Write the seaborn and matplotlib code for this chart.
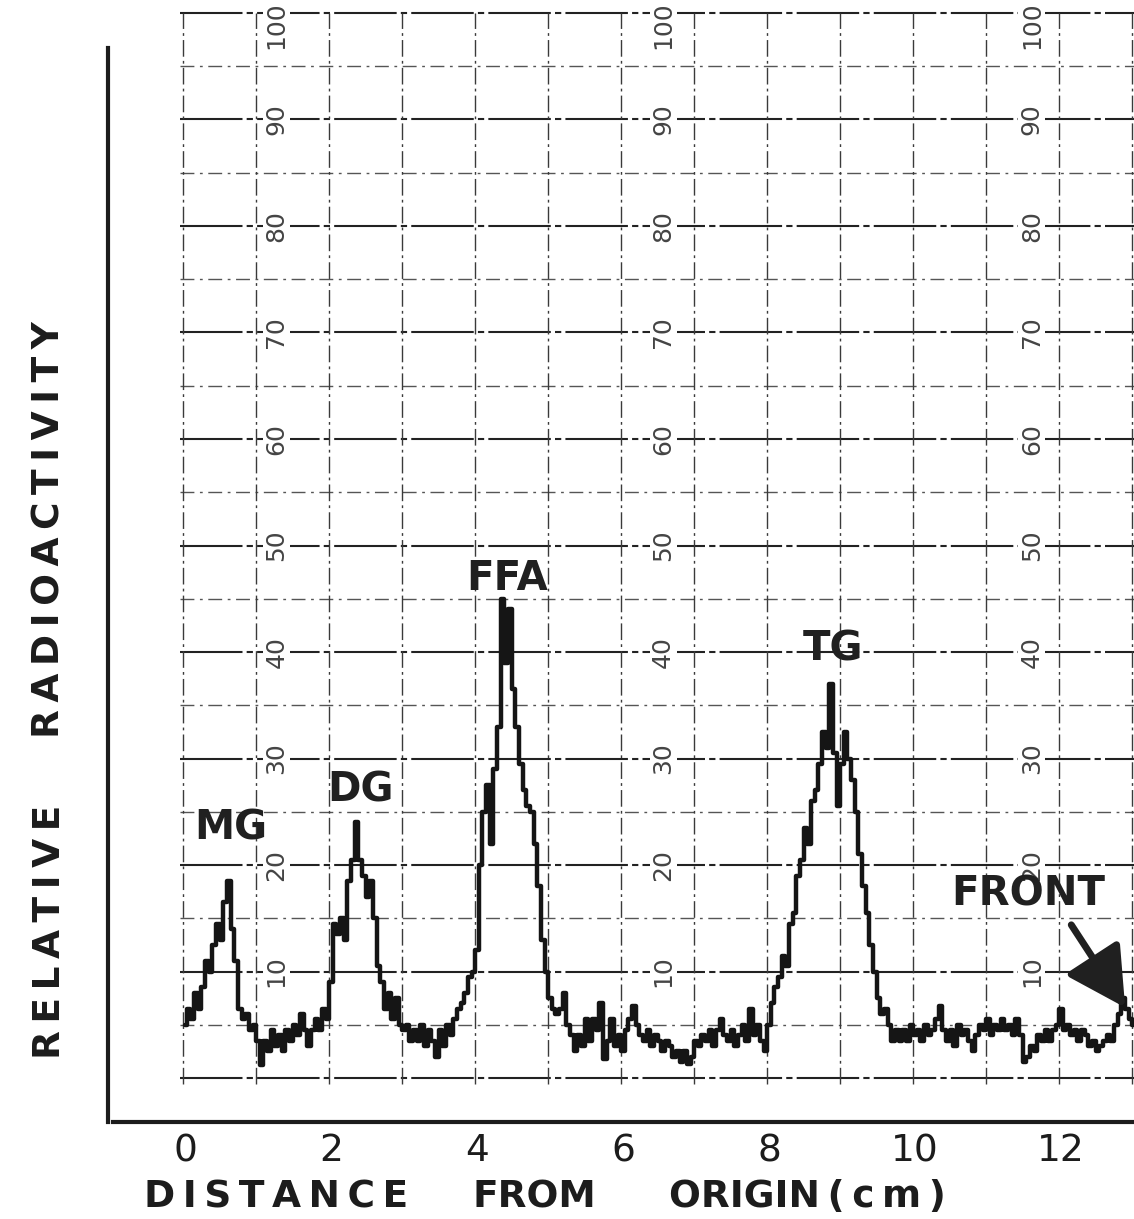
import matplotlib
matplotlib.use("Agg")
import matplotlib.pyplot as plt
import seaborn as sns
import pandas as pd

# ---------------- data ----------------
distance_cm = [
    0.00, 0.05, 0.10, 0.15, 0.20, 0.25, 0.30, 0.35, 0.40, 0.45, 0.50, 0.55, 0.60, 0.65, 0.70, 0.75, 0.80, 0.85, 0.90, 0.95,
    1.00, 1.05, 1.10, 1.15, 1.20, 1.25, 1.30, 1.35, 1.40, 1.45, 1.50, 1.55, 1.60, 1.65, 1.70, 1.75, 1.80, 1.85, 1.90, 1.95,
    2.00, 2.05, 2.10, 2.15, 2.20, 2.25, 2.30, 2.35, 2.40, 2.45, 2.50, 2.55, 2.60, 2.65, 2.70, 2.75, 2.80, 2.85, 2.90, 2.95,
    3.00, 3.05, 3.10, 3.15, 3.20, 3.25, 3.30, 3.35, 3.40, 3.45, 3.50, 3.55, 3.60, 3.65, 3.70, 3.75, 3.80, 3.85, 3.90, 3.95,
    4.00, 4.05, 4.10, 4.15, 4.20, 4.25, 4.30, 4.35, 4.40, 4.45, 4.50, 4.55, 4.60, 4.65, 4.70, 4.75, 4.80, 4.85, 4.90, 4.95,
    5.00, 5.05, 5.10, 5.15, 5.20, 5.25, 5.30, 5.35, 5.40, 5.45, 5.50, 5.55, 5.60, 5.65, 5.70, 5.75, 5.80, 5.85, 5.90, 5.95,
    6.00, 6.05, 6.10, 6.15, 6.20, 6.25, 6.30, 6.35, 6.40, 6.45, 6.50, 6.55, 6.60, 6.65, 6.70, 6.75, 6.80, 6.85, 6.90, 6.95,
    7.00, 7.05, 7.10, 7.15, 7.20, 7.25, 7.30, 7.35, 7.40, 7.45, 7.50, 7.55, 7.60, 7.65, 7.70, 7.75, 7.80, 7.85, 7.90, 7.95,
    8.00, 8.05, 8.10, 8.15, 8.20, 8.25, 8.30, 8.35, 8.40, 8.45, 8.50, 8.55, 8.60, 8.65, 8.70, 8.75, 8.80, 8.85, 8.90, 8.95,
    9.00, 9.05, 9.10, 9.15, 9.20, 9.25, 9.30, 9.35, 9.40, 9.45, 9.50, 9.55, 9.60, 9.65, 9.70, 9.75, 9.80, 9.85, 9.90, 9.95,
    10.00, 10.05, 10.10, 10.15, 10.20, 10.25, 10.30, 10.35, 10.40, 10.45, 10.50, 10.55, 10.60, 10.65, 10.70, 10.75, 10.80, 10.85, 10.90, 10.95,
    11.00, 11.05, 11.10, 11.15, 11.20, 11.25, 11.30, 11.35, 11.40, 11.45, 11.50, 11.55, 11.60, 11.65, 11.70, 11.75, 11.80, 11.85, 11.90, 11.95,
    12.00, 12.05, 12.10, 12.15, 12.20, 12.25, 12.30, 12.35, 12.40, 12.45, 12.50, 12.55, 12.60, 12.65, 12.70, 12.75, 12.80, 12.85, 12.90, 12.95,
    13.00,
]
radioactivity = [
    5.0, 6.5, 5.5, 8.0, 6.5, 8.5, 11.0, 10.0, 12.5, 14.5, 13.0, 16.5, 18.5, 14.0, 11.0, 6.5, 5.5, 6.0, 4.5, 5.0,
    3.5, 1.2, 3.5, 2.5, 4.5, 3.0, 4.0, 2.5, 4.5, 3.5, 5.0, 4.0, 6.0, 4.5, 3.0, 4.5, 5.5, 4.5, 6.5, 5.5,
    9.0, 14.5, 13.5, 15.0, 13.0, 18.5, 20.5, 24.0, 20.5, 19.0, 17.0, 18.5, 15.0, 10.5, 9.0, 6.5, 8.0, 5.5, 7.5, 5.0,
    4.5, 5.0, 3.5, 4.5, 3.5, 5.0, 3.0, 4.5, 3.5, 2.0, 4.5, 3.0, 5.0, 4.0, 5.5, 6.5, 7.0, 8.0, 9.5, 10.0,
    12.0, 20.0, 25.0, 27.5, 22.0, 29.0, 33.0, 45.0, 39.0, 44.0, 36.5, 33.0, 29.5, 27.0, 25.5, 25.0, 22.0, 18.0, 13.0, 10.0,
    7.5, 6.5, 6.0, 6.5, 8.0, 5.0, 4.0, 2.5, 4.0, 3.0, 5.5, 3.5, 5.5, 4.5, 7.0, 1.8, 3.5, 5.5, 3.0, 4.0,
    2.5, 4.5, 5.5, 6.8, 5.0, 4.0, 3.5, 4.5, 3.0, 4.0, 3.5, 2.5, 3.5, 3.0, 2.0, 2.5, 1.5, 2.5, 1.3, 2.0,
    3.5, 3.0, 4.0, 3.5, 4.5, 3.0, 4.5, 5.5, 4.0, 3.5, 4.5, 3.0, 4.0, 5.0, 3.5, 6.5, 4.0, 5.0, 3.5, 2.5,
    5.0, 7.0, 8.5, 9.5, 11.5, 10.5, 14.5, 15.5, 19.0, 20.5, 23.5, 22.0, 26.0, 27.0, 29.5, 32.5, 31.0, 37.0, 30.5, 25.5,
    29.5, 32.5, 30.0, 28.0, 25.0, 21.0, 18.0, 15.5, 12.5, 10.0, 7.5, 6.0, 6.5, 5.0, 3.5, 4.5, 3.5, 4.5, 3.5, 5.0,
    4.0, 4.5, 3.5, 5.0, 4.0, 4.5, 5.5, 6.8, 4.5, 3.5, 4.5, 3.0, 5.0, 4.0, 4.5, 3.5, 2.5, 4.0, 5.0, 4.5,
    5.5, 4.0, 5.0, 4.5, 5.5, 4.5, 5.0, 4.0, 5.5, 4.0, 1.5, 2.0, 3.0, 2.5, 4.0, 3.5, 4.5, 3.5, 4.5, 5.0,
    6.5, 4.5, 5.0, 4.0, 4.5, 3.5, 4.5, 4.0, 3.0, 3.5, 2.5, 3.0, 3.5, 4.0, 3.5, 5.0, 6.0, 7.5, 6.5, 5.5,
    5.0,
]
x_ticks = [0, 2, 4, 6, 8, 10, 12]
paper_levels = [10, 20, 30, 40, 50, 60, 70, 80, 90, 100]
peak_names = ["MG", "DG", "FFA", "TG", "FRONT"]
peak_label_x = [0.63, 2.41, 4.41, 8.88, 11.55]
peak_label_y = [23.4, 27.0, 46.9, 40.2, 17.2]

# ---------------- figure ----------------
sns.set_style("white")
plt.rcParams["font.family"] = ["DejaVu Sans"]

W, H = 1134, 1219
fig = plt.figure(figsize=(W / 100, H / 100), dpi=100)
ax = fig.add_axes([108 / W, (H - 1122) / H, 1 - 108 / W, 1122 / H])
ax.set_xlim(-1.055, 13.0)
ax.set_ylim(-4.13, 101.22)

ink = "#1c1c1c"

# chart-paper grid
for lv in range(0, 101, 10):
    ax.plot([-0.07, 13.0], [lv, lv], color="#222222", lw=1.5, dashes=(30, 2, 3, 2), zorder=1)
for lv in range(5, 100, 10):
    ax.plot([-0.07, 13.0], [lv, lv], color="#555555", lw=1.0, dashes=(10, 4, 2, 4), zorder=1)
for cm in range(0, 14):
    ax.plot([cm - 0.03, cm - 0.03], [-0.6, 100], color="#3a3a3a", lw=1.0, dashes=(12, 3, 2, 3), zorder=1)

# chart-paper scale numbers (the top ones run off the sheet, as on the scan)
for col in [1.25, 6.55, 11.6]:
    for lv in paper_levels:
        ypos = lv - 1.1 if lv == 100 else lv
        ax.text(col, ypos, str(lv), rotation=90, ha="center", va="center", fontsize=18,
                color="#444444", zorder=2,
                bbox=dict(facecolor="white", edgecolor="none", pad=1.0))

# trace
df = pd.DataFrame({"distance": distance_cm, "activity": radioactivity})
sns.lineplot(data=df, x="distance", y="activity", ax=ax, color="#151515", lw=3.2,
             drawstyle="steps-mid", estimator=None, sort=False, zorder=5)

# peak labels
for name, px, py in zip(peak_names, peak_label_x, peak_label_y):
    ax.text(px, py, name, ha="center", va="center", fontsize=29, fontweight="bold",
            color="#202020", zorder=6)

ax.annotate("", xy=(12.9, 6.4), xytext=(12.12, 14.6),
            arrowprops=dict(arrowstyle="-|>,head_length=1.2,head_width=0.65",
                            lw=5, color="#202020", mutation_scale=30), zorder=6)

# axes styling
for s in ["top", "right"]:
    ax.spines[s].set_visible(False)
ax.spines["left"].set_linewidth(3)
ax.spines["bottom"].set_linewidth(3)
ax.spines["left"].set_color(ink)
ax.spines["bottom"].set_color(ink)
ax.spines["left"].set_bounds(-4.13, 96.7)
ax.spines["bottom"].set_bounds(-0.99, 13.0)

ax.set_yticks([])
ax.set_xticks(x_ticks)
ax.set_xticklabels([str(t) for t in x_ticks], fontsize=27, color=ink)
ax.tick_params(axis="x", direction="in", length=12, width=2.2, color=ink, pad=8)
ax.set_xlabel("")
ax.set_ylabel("")

# axis titles
def fx(px):
    return px / W

def fy(py):
    return 1 - py / H

thin = "\u2009"
def spaced(word):
    return thin.join(word)

fig.text(fx(276), fy(1197), spaced("DISTANCE"), ha="center", va="center", fontsize=27, fontweight="bold", color=ink)
fig.text(fx(534), fy(1197), "FROM", ha="center", va="center", fontsize=27, fontweight="bold", color=ink)
fig.text(fx(807), fy(1197), "ORIGIN" + thin + "(" + thin + "c" + thin + "m" + thin + ")", ha="center", va="center",
         fontsize=27, fontweight="bold", color=ink)
fig.text(fx(50), fy(932), spaced("RELATIVE"), rotation=90, ha="center", va="center", fontsize=27, fontweight="bold", color=ink)
fig.text(fx(50), fy(530), spaced("RADIOACTIVITY"), rotation=90, ha="center", va="center", fontsize=27, fontweight="bold", color=ink)

fig.savefig("out.png", dpi=100)
